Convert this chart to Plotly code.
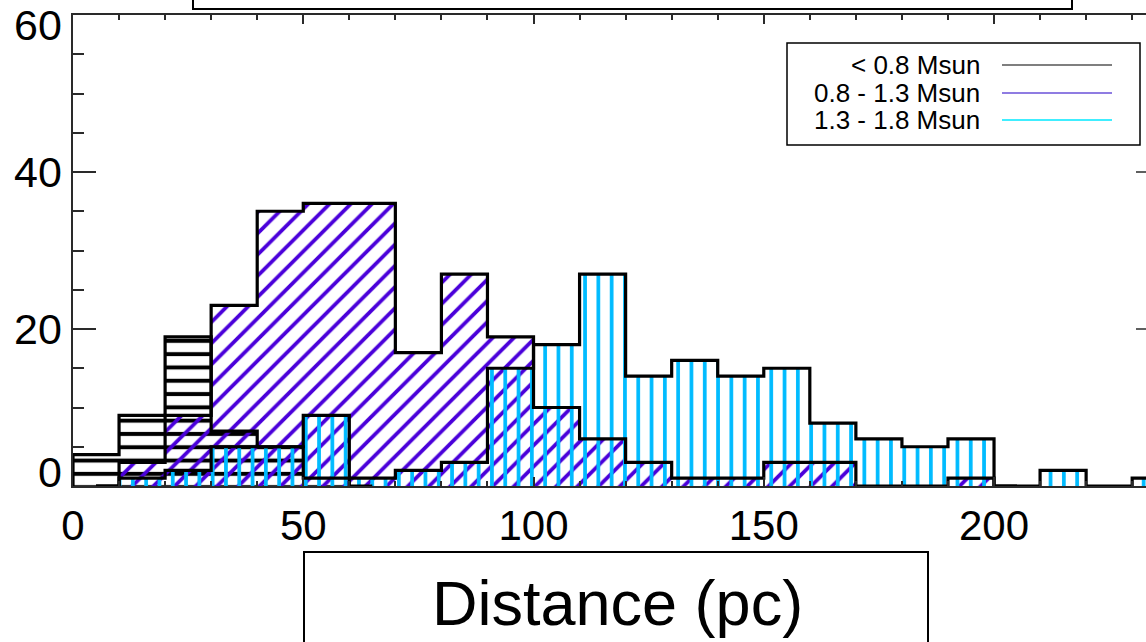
import plotly.graph_objects as go

# ---------------- data ----------------
bin_width = 10
series_names = ["< 0.8 Msun", "0.8 - 1.3 Msun", "1.3 - 1.8 Msun"]
# counts per 10-pc bin, first bin starting at 0 pc
counts_lt08 = [4, 9, 19, 7, 5, 1, 0]
counts_08_13 = [0, 3, 9, 23, 35, 36, 36, 17, 27, 19, 10, 6, 3, 1, 1, 3, 3, 0, 0, 1, 0]
counts_13_18 = [0, 1, 2, 5, 5, 9, 1, 2, 3, 15, 18, 27, 14, 16, 14, 15, 8, 6, 5, 6, 0, 2, 0, 1]
# where each step outline starts / ends (pc)
hist_start = [0, 5, 5]
hist_end = [65, 205, 245]
x_ticks = [0, 50, 100, 150, 200]
y_ticks = [0, 20, 40, 60]
x_title = "Distance (pc)"

# ---------------- styles ----------------
hatch_colors = ["#000000", "#4A00DA", "#00BBFF"]
legend_colors = ["#555555", "#6A50D8", "#00E8FF"]
hatch_shapes = ["-", "/", "|"]
hatch_sizes = [13.3, 15, 13.3]
hatch_solid = [0.3, 0.25, 0.28]
FONT = "Liberation Sans, Arial, Helvetica, sans-serif"

W, H = 1146, 642
L, R, T, B = 73, 0, 15, 156
PW, PH = W - L - R, H - T - B


def px(x):
    return (x - L) / PW


def py(y):
    return (H - B - y) / PH


fig = go.Figure()
all_counts = [counts_lt08, counts_08_13, counts_13_18]

# hatched fills
for i, cnt in enumerate(all_counts):
    centers = [k * bin_width + bin_width / 2 for k in range(len(cnt))]
    fig.add_trace(go.Bar(
        x=centers, y=cnt, width=bin_width, name=series_names[i],
        marker=dict(color=hatch_colors[i], line=dict(width=0),
                    pattern=dict(shape=hatch_shapes[i], size=hatch_sizes[i],
                                 solidity=hatch_solid[i], fgcolor=hatch_colors[i],
                                 bgcolor="rgba(0,0,0,0)", fillmode="replace")),
        showlegend=False, hoverinfo="skip"))

# step outlines
for i, cnt in enumerate(all_counts):
    xs, ys = [], []
    if hist_start[i] == 0:
        xs.append(0); ys.append(0)
    xs.append(hist_start[i]); ys.append(cnt[0])
    for k in range(1, len(cnt)):
        xs.append(k * bin_width); ys.append(cnt[k])
    xs.append(hist_end[i]); ys.append(cnt[-1])
    fig.add_trace(go.Scatter(x=xs, y=ys, mode="lines", line=dict(color="black", width=3.2, shape="hv"),
                             cliponaxis=False, showlegend=False, hoverinfo="skip"))

axis_col = "#2a2a2a"
fig.update_layout(
    width=W, height=H, margin=dict(l=L, r=R, t=T, b=B, pad=0),
    paper_bgcolor="white", plot_bgcolor="white", barmode="overlay", bargap=0,
    showlegend=False, font=dict(family=FONT, color="black"),
    xaxis=dict(range=[0, 233], tickvals=x_ticks, ticks="inside", ticklen=9, tickwidth=1.5,
               tickcolor=axis_col, showline=True, linecolor=axis_col, linewidth=2, mirror="ticks",
               showgrid=False, zeroline=False, tickfont=dict(size=42, family=FONT, color="black"),
               ticklabelstandoff=2,
               minor=dict(dtick=10, ticklen=5, ticks="inside", tickcolor=axis_col, tickwidth=1.5)),
    yaxis=dict(range=[0, 60], tickvals=y_ticks, showticklabels=False, ticks="inside", ticklen=23,
               tickwidth=1.5, tickcolor=axis_col, showline=True, linecolor=axis_col, linewidth=2,
               showgrid=False, zeroline=False,
               minor=dict(dtick=5, ticklen=11, ticks="inside", tickcolor=axis_col, tickwidth=1.5)),
)

# y tick labels (end labels nudged inward as in the original)
y_shift = {0: 14, 20: 0, 40: 0, 60: -10}
for v in y_ticks:
    fig.add_annotation(x=0, xref="paper", y=v, yref="y", text=str(v), showarrow=False,
                       xanchor="right", yanchor="middle", xshift=-9, yshift=y_shift[v],
                       font=dict(size=43, family=FONT, color="black"))

# right-side ticks (axis itself lies just beyond the page)
for v in [20, 40]:
    fig.add_shape(type="line", xref="paper", yref="y", x0=1 - 10 / PW, x1=1, y0=v, y1=v,
                  line=dict(color=axis_col, width=1.5))

# top (title) box, cut by the page edge
fig.add_shape(type="rect", xref="paper", yref="paper", x0=px(193), x1=px(1072), y0=py(9), y1=py(-10),
              line=dict(color="black", width=2))
# x title box and text
fig.add_shape(type="rect", xref="paper", yref="paper", x0=px(304), x1=px(928), y0=py(650), y1=py(552),
              line=dict(color="black", width=2))
fig.add_annotation(x=px(617), xref="paper", y=py(603), yref="paper", text=x_title, showarrow=False,
                   xanchor="center", yanchor="middle", font=dict(size=63, family=FONT, color="black"))

# legend
fig.add_shape(type="rect", xref="paper", yref="paper", x0=px(787), x1=px(1140), y0=py(145), y1=py(43),
              line=dict(color="black", width=1.5))
rows = [65, 93, 120]
for i, name in enumerate(series_names):
    fig.add_shape(type="line", xref="paper", yref="paper", x0=px(1002), x1=px(1112),
                  y0=py(rows[i]), y1=py(rows[i]), line=dict(color=legend_colors[i], width=1.3))
    fig.add_annotation(x=px(981), xref="paper", y=py(rows[i]), yref="paper", text=name, showarrow=False,
                       xanchor="right", yanchor="middle", borderpad=0,
                       font=dict(size=26, family=FONT, color="black"))

fig.write_html("out.html")
